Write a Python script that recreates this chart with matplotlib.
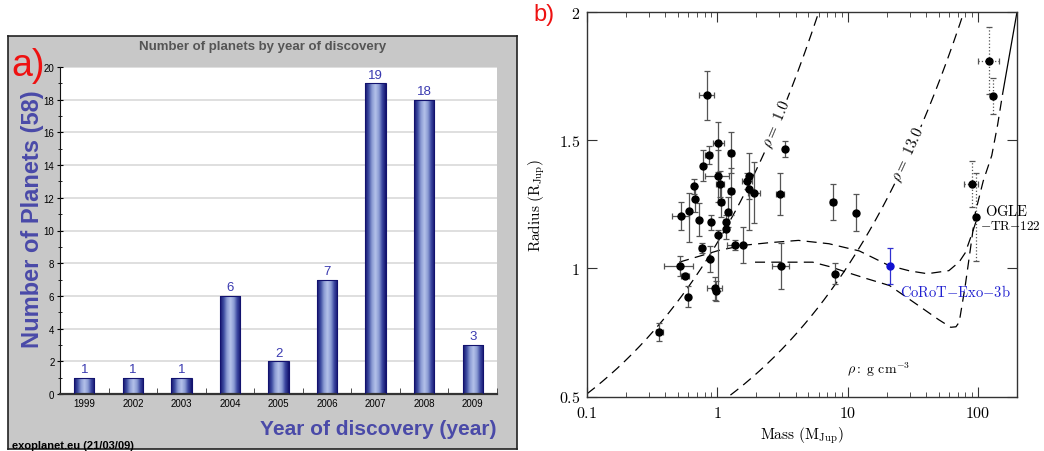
import numpy as np
import matplotlib
matplotlib.use("Agg")
import matplotlib.pyplot as plt
from matplotlib.colors import LinearSegmentedColormap
from matplotlib.ticker import NullFormatter, LogLocator

plt.rcParams["mathtext.fontset"] = "cm"
plt.rcParams["font.family"] = ["Liberation Sans", "DejaVu Sans"]

# ---------------- panel a: discoveries per year ----------------
years = ["1999", "2002", "2003", "2004", "2005", "2006", "2007", "2008", "2009"]
counts = [1, 1, 1, 6, 2, 7, 19, 18, 3]

# ---------------- panel b: mass-radius diagram ----------------
planet_mass = [0.84, 1.02, 0.86, 1.27, 0.78, 1.02, 1.05, 0.66, 0.68, 1.28,
               1.07, 1.70, 1.75, 1.75, 1.92, 3.3, 3.04, 7.7, 11.6, 0.53,
               0.61, 0.72, 0.90, 1.21, 1.16, 1.16, 1.01, 1.36, 1.57, 0.76,
               0.88, 0.52, 0.57, 0.96, 0.97, 0.60, 0.36, 3.1, 8.0]
planet_radius = [1.675, 1.49, 1.443, 1.451, 1.40, 1.36, 1.33, 1.32, 1.27, 1.30,
                 1.26, 1.34, 1.36, 1.31, 1.295, 1.466, 1.29, 1.26, 1.217, 1.204,
                 1.222, 1.19, 1.18, 1.22, 1.18, 1.154, 1.13, 1.09, 1.09, 1.08,
                 1.037, 1.009, 0.972, 0.923, 0.912, 0.89, 0.753, 1.009, 0.979]
radius_err_lo = [0.095, 0.115, 0.035, 0.08, 0.06, 0.10, 0.05, 0.03, 0.05, 0.09,
                 0.06, 0.03, 0.21, 0.04, 0.12, 0.03, 0.08, 0.07, 0.073, 0.053,
                 0.12, 0.065, 0.03, 0.06, 0.03, 0.04, 0.22, 0.02, 0.07, 0.02,
                 0.05, 0.04, 0.01, 0.045, 0.04, 0.042, 0.035, 0.09, 0.04]
radius_err_hi = [0.095, 0.08, 0.035, 0.08, 0.06, 0.10, 0.05, 0.03, 0.05, 0.09,
                 0.06, 0.03, 0.09, 0.04, 0.12, 0.03, 0.08, 0.07, 0.073, 0.053,
                 0.07, 0.065, 0.03, 0.06, 0.03, 0.04, 0.02, 0.02, 0.07, 0.02,
                 0.05, 0.04, 0.01, 0.045, 0.04, 0.042, 0.035, 0.09, 0.04]
mass_err = [0.11, 0.10, 0.05, 0.07, 0.03, 0.22, 0.08, 0.0, 0.0, 0.07,
            0.06, 0.15, 0.0, 0.0, 0.2, 0.1, 0.2, 0.4, 0.3, 0.08,
            0.0, 0.0, 0.03, 0.0, 0.0, 0.0, 0.0, 0.17, 0.0, 0.03,
            0.0, 0.13, 0.04, 0.12, 0.0, 0.0, 0.02, 0.45, 0.0]

# low-mass stars / brown dwarfs (dotted error bars)
star_mass = [123, 130, 90, 97]
star_radius = [1.81, 1.671, 1.33, 1.20]
star_radius_err = [0.13, 0.07, 0.09, 0.17]
star_mass_err = [23, 5, 11, 3]

corot_mass = [21.2]
corot_radius = [1.01]
corot_radius_err = [0.07]

# isodensity contours (g cm^-3)
densities = [1.0, 13.0]
rho_jupiter = 1.33

# evolutionary tracks
track_upper_mass = [0.51, 1.03, 1.6, 2.5, 4.2, 7.2, 12.3, 20.8, 30, 41, 60, 72, 80, 91, 98]
track_upper_radius = [1.024, 1.07, 1.09, 1.10, 1.109, 1.096, 1.068, 1.011, 0.99, 0.979,
                      0.991, 1.025, 1.06, 1.14, 1.19]
track_lower_mass = [1.95, 3.2, 5.4, 7.5, 9.8, 14, 21, 35, 50, 62, 68, 72, 80, 88, 96, 110,
                    128, 142, 155]
track_lower_radius = [1.024, 1.024, 1.024, 1.005, 0.985, 0.96, 0.933, 0.855, 0.80, 0.77,
                      0.772, 0.79, 0.93, 1.08, 1.22, 1.34, 1.44, 1.56, 1.68]
track_solid_mass = [155, 200]
track_solid_radius = [1.68, 2.0]

W, H = 1044, 452
fig = plt.figure(figsize=(W / 100, H / 100), dpi=100)


def fx(px):
    return px / W


def fy(py):
    return 1 - py / H


# ---- panel a ----
frame = fig.add_axes([fx(8), fy(450), fx(509), 413 / H], zorder=0)
frame.set_facecolor("#c8c8c8")
frame.set_xticks([])
frame.set_yticks([])
for s in frame.spines.values():
    s.set_color("#222222")
    s.set_linewidth(1.2)

ax1 = fig.add_axes([fx(60), fy(395), fx(437), 327 / H], zorder=1)
ax1.set_facecolor("white")
x = np.arange(len(years))
bars = ax1.bar(x, counts, width=0.42, color="none", edgecolor="#12126e", lw=0.8, zorder=3)
bar_cmap = LinearSegmentedColormap.from_list(
    "barshade", ["#14146e", "#3c4aa0", "#8c9cd4", "#b4c2ea", "#8c9cd4", "#3a46a0", "#14146e"])
shade = np.linspace(0, 1, 64).reshape(1, -1)
for b in bars:
    x0, y0 = b.get_xy()
    im = ax1.imshow(shade, extent=[x0, x0 + b.get_width(), y0, y0 + b.get_height()],
                    aspect="auto", cmap=bar_cmap, zorder=2, interpolation="bilinear")
    im.set_clip_path(b)
for xi, v in zip(x, counts):
    ax1.text(xi, v + 0.15, str(v), ha="center", va="bottom", color="#3a3ab0", fontsize=9.5)

ax1.set_xlim(-0.5, len(years) - 0.5)
ax1.set_ylim(0, 20)
ax1.set_yticks(np.arange(0, 21, 2))
ax1.set_yticks(np.arange(1, 20, 2), minor=True)
ax1.yaxis.grid(True, color="#dcdcdc", lw=1.3)
ax1.set_axisbelow(True)
ax1.set_xticks(x)
ax1.set_xticklabels(years)
ax1.set_xticks(np.arange(-0.5, len(years), 1.0), minor=True)
ax1.tick_params(axis="x", which="major", length=0, labelsize=7, pad=3)
ax1.tick_params(axis="x", which="minor", direction="in", length=4, color="#333333")
ax1.tick_params(axis="y", which="major", direction="inout", length=4, labelsize=7, pad=2)
ax1.tick_params(axis="y", which="minor", direction="inout", length=2.5)
for s in ("top", "right"):
    ax1.spines[s].set_visible(False)
ax1.spines["left"].set_color("#111111")
ax1.spines["bottom"].set_color("#333333")
ax1.spines["bottom"].set_linewidth(1.6)

fig.text(fx(263), fy(47), "Number of planets by year of discovery", ha="center", va="center",
         color="#555555", fontsize=9.5, weight="bold", zorder=3)
fig.text(fx(33), fy(219), "Number of Planets (58)", rotation=90, ha="center", va="center",
         color="#4a4aa8", fontsize=17, weight="bold", zorder=3)
fig.text(fx(497), fy(430), "Year of discovery (year)", ha="right", va="center",
         color="#4a4aa8", fontsize=15, weight="bold", zorder=3)
fig.text(fx(12), fy(446), "exoplanet.eu (21/03/09)", ha="left", va="center",
         color="black", fontsize=8, weight="bold", zorder=3)
fig.text(fx(11), fy(76), "a)", ha="left", va="baseline", color="#ee1111", fontsize=27,
         zorder=3)

# ---- panel b ----
ax2 = fig.add_axes([fx(587), fy(397.5), fx(430), 384.5 / H])
ax2.set_xscale("log")
ax2.set_xlim(0.1, 200)
ax2.set_ylim(0.5, 2.0)

dash = (8, 5)
m_grid = np.logspace(-1, np.log10(200), 400)
for rho in densities:
    r = (m_grid * rho_jupiter / rho) ** (1 / 3)
    ax2.plot(m_grid, r, color="black", lw=0.9, dashes=dash, zorder=1)

ax2.plot(track_upper_mass, track_upper_radius, color="black", lw=0.9, dashes=dash, zorder=1)
ax2.plot(track_lower_mass, track_lower_radius, color="black", lw=0.9, dashes=dash, zorder=1)
ax2.plot(track_solid_mass, track_solid_radius, color="black", lw=0.9, zorder=1)

ax2.errorbar(planet_mass, planet_radius, yerr=[radius_err_lo, radius_err_hi], xerr=mass_err,
             fmt="o", ms=5, mfc="black", mec="black", ecolor="#555555", elinewidth=0.9,
             capsize=2.5, capthick=0.9, zorder=3)
eb = ax2.errorbar(star_mass, star_radius, yerr=star_radius_err, xerr=star_mass_err,
                  fmt="o", ms=5, mfc="black", mec="black", ecolor="#555555", elinewidth=0.9,
                  capsize=2.5, capthick=0.9, zorder=3)
for coll in eb[2]:
    coll.set_linestyle(":")
ax2.errorbar(corot_mass, corot_radius, yerr=corot_radius_err, fmt="o", ms=5, mfc="#1010d0",
             mec="#1010d0", ecolor="#3030d0", elinewidth=0.9, capsize=2.5, capthick=0.9,
             zorder=3)

# contour labels sitting on their lines
label_radius = [1.564, 1.445]
for rho, rl in zip(densities, label_radius):
    ml = rl ** 3 * rho / rho_jupiter
    p1 = ax2.transData.transform((ml * 0.9, (ml * 0.9 * rho_jupiter / rho) ** (1 / 3)))
    p2 = ax2.transData.transform((ml * 1.1, (ml * 1.1 * rho_jupiter / rho) ** (1 / 3)))
    ang = np.degrees(np.arctan2(p2[1] - p1[1], p2[0] - p1[0]))
    ax2.text(ml, rl, r"$\rho{=}\ %.1f$" % rho, rotation=ang, rotation_mode="anchor",
             ha="center", va="center", fontsize=11, zorder=2,
             bbox=dict(facecolor="white", edgecolor="none", pad=0.5))

ax2.text(25.3, 0.913, r"$\mathrm{CoRoT{-}Exo{-}3b}$", color="#2020d0", fontsize=10.5,
         ha="left", va="center", zorder=4)
ax2.text(113, 1.225, r"$\mathrm{OGLE}$", color="black", fontsize=10.5, ha="left",
         va="center", clip_on=False, zorder=4)
ax2.text(104, 1.168, r"$\mathrm{{-}TR{-}122}$", color="black", fontsize=9.5, ha="left",
         va="center", clip_on=False, zorder=4)
ax2.text(9.97, 0.607, r"$\rho\mathrm{:\ g\ cm^{-3}}$", color="black", fontsize=10,
         ha="left", va="center")

ax2.set_xticks([0.1, 1, 10, 100])
ax2.set_xticklabels([r"$0.1$", r"$1$", r"$10$", r"$100$"])
ax2.xaxis.set_minor_locator(LogLocator(base=10, subs=np.arange(2, 10), numticks=20))
ax2.xaxis.set_minor_formatter(NullFormatter())
ax2.set_yticks([0.5, 1.0, 1.5, 2.0])
ax2.set_yticklabels([r"$0.5$", r"$1$", r"$1.5$", r"$2$"])
ax2.tick_params(which="both", direction="in", top=True, right=True, labelsize=11.5,
                color="#333333")
ax2.tick_params(which="major", length=7)
ax2.tick_params(which="minor", length=3.8)
ax2.tick_params(axis="x", pad=6)
ax2.tick_params(axis="y", pad=5)
for s in ax2.spines.values():
    s.set_color("#333333")
    s.set_linewidth(1.0)
ax2.set_xlabel(r"$\mathrm{Mass\ (M_{Jup})}$", fontsize=11, labelpad=3)
ax2.set_ylabel(r"$\mathrm{Radius\ (R_{Jup})}$", fontsize=11, labelpad=8)

fig.text(fx(533), fy(15), "b)", ha="left", va="center", color="#ee1111", fontsize=17)

fig.savefig("out.png", dpi=100)
